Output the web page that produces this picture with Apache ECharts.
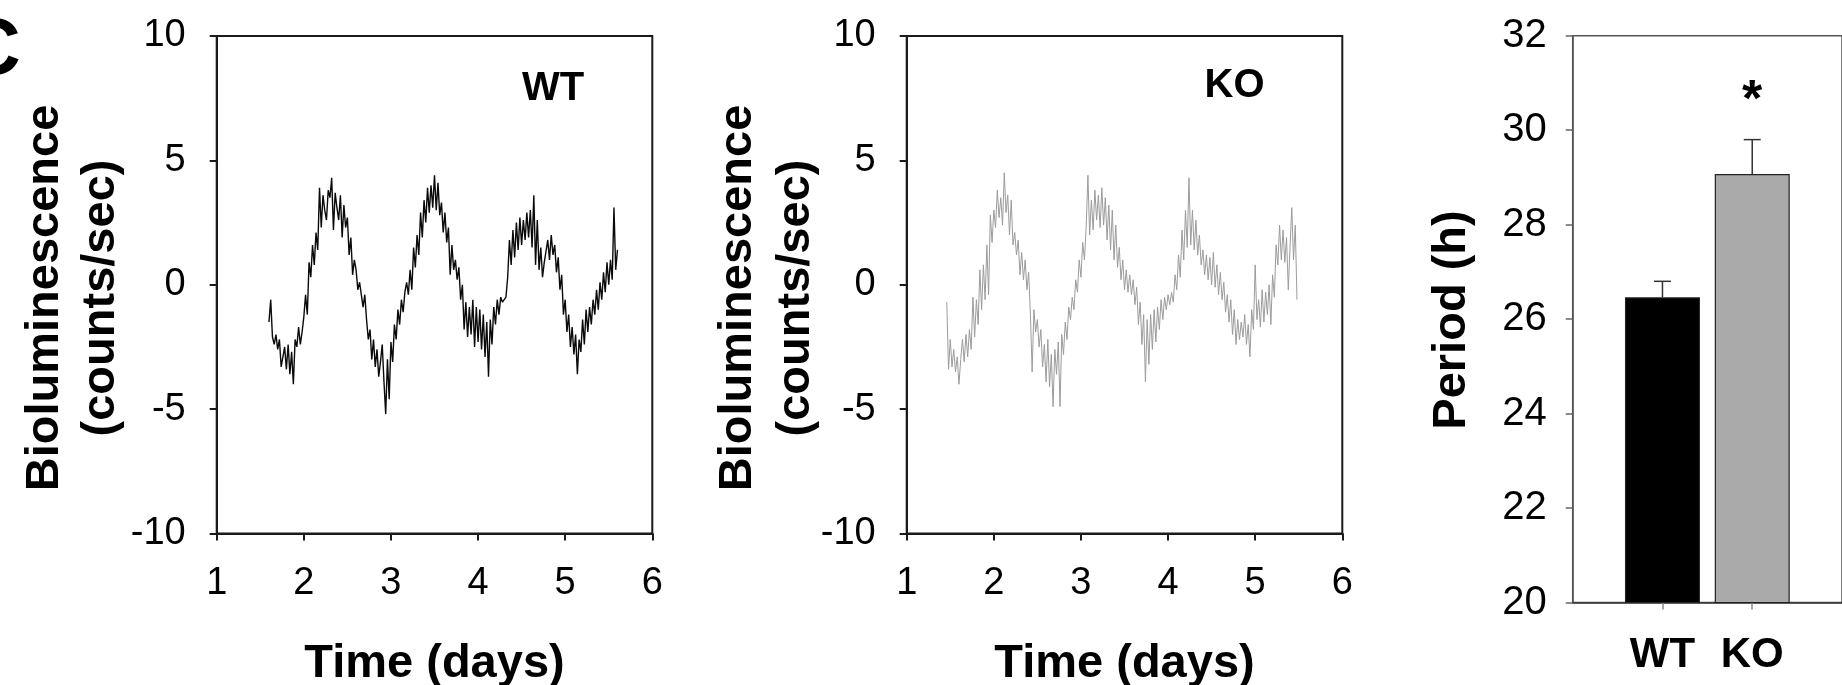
<!DOCTYPE html>
<html><head><meta charset="utf-8">
<script src="https://cdn.jsdelivr.net/npm/echarts@6/dist/echarts.min.js"></script>
<style>html,body{margin:0;padding:0;background:#fff}#c{width:1842px;height:685px}</style>
</head><body><div id="c"></div>
<script>
// ---- data ----
const sampleStep = 0.02;           // days between samples
const wtStart = 1.60;              // first WT sample (days)
const koStart = 1.46;              // first KO sample (days)
const wtValues = [
-1.5,-0.6,-2.1,-2.4,-2.0,-2.6,-2.2,-3.3,-2.9,-2.5,-3.4,-2.4,-3.6,-2.7,-4.0,-2.2,-2.5,-1.7,-2.4,-1.9,
-1.3,-0.4,-1.2,0.9,0.3,1.6,0.8,2.1,1.4,3.9,2.3,3.6,3.0,2.6,3.8,3.5,4.3,2.2,3.7,3.1,
2.6,3.6,1.9,3.2,2.3,2.7,1.2,1.9,0.4,1.0,0.6,-0.2,0.1,-0.4,-0.9,-0.4,-1.4,-2.2,-1.8,-3.0,
-2.2,-3.3,-2.6,-3.7,-3.1,-2.4,-3.9,-5.2,-3.0,-4.6,-2.3,-3.1,-1.6,-2.2,-1.0,-1.6,-0.6,-1.1,-0.3,0.1,
-0.4,0.6,-0.2,1.5,0.7,2.0,1.2,2.9,1.9,3.4,2.5,3.9,2.9,4.0,3.1,4.4,3.0,4.1,2.8,3.3,
2.1,2.9,1.7,2.3,0.4,1.6,0.6,1.0,0.2,0.7,-0.6,0.0,-1.8,-0.7,-2.1,-0.9,-2.0,-0.6,-2.5,-0.9,
-2.3,-1.0,-2.6,-1.2,-2.9,-1.5,-3.7,-1.4,-2.4,-0.9,-1.6,-0.6,-1.2,-0.5,-0.7,-0.6,-0.5,0.3,1.8,0.8,
2.2,1.1,2.5,1.4,2.7,1.6,2.6,1.8,2.9,1.9,3.0,1.5,3.6,0.8,2.6,0.6,1.5,0.3,0.9,0.9,
1.8,1.0,2.0,1.2,1.6,0.5,1.1,-0.2,0.4,-1.2,-0.6,-1.9,-1.2,-2.5,-1.7,-2.8,-2.0,-3.6,-2.2,-2.7,
-1.4,-2.4,-1.0,-1.9,-0.9,-1.6,-0.6,-1.2,-0.2,-1.0,0.1,-0.6,0.5,-0.3,0.9,0.0,1.0,0.2,3.1,0.6,
1.4
];
const koValues = [
-0.7,-3.4,-2.2,-3.3,-2.6,-3.5,-2.9,-4.0,-3.0,-2.2,-3.1,-2.0,-2.9,-1.8,-2.6,-0.5,-2.1,-0.6,-1.6,0.6,
-1.0,0.8,-0.6,1.6,-0.4,2.8,1.7,3.0,2.3,3.8,2.7,3.5,2.4,4.5,2.9,3.6,2.0,3.4,1.6,2.1,
1.2,1.8,0.4,1.3,0.2,1.0,-0.2,0.5,-1.2,-3.5,-1.0,-1.9,-1.4,-2.5,-1.8,-3.3,-2.4,-3.9,-2.2,-4.1,
-2.8,-4.9,-2.6,-3.6,-2.3,-4.9,-2.0,-2.8,-1.5,-2.2,-0.9,-1.4,-0.5,-1.0,0.2,-0.3,1.0,0.3,1.7,1.0,
2.3,4.4,2.0,3.4,2.2,3.8,2.6,3.6,2.3,3.9,2.4,3.5,1.8,3.2,1.4,3.0,1.0,2.4,0.7,1.5,
0.2,1.0,-0.2,0.6,-0.3,0.4,-0.4,0.2,-0.8,-0.1,-1.6,-0.7,-2.4,-1.2,-3.9,-1.4,-3.2,-1.2,-2.6,-1.0,
-2.3,-0.9,-1.8,-0.6,-1.4,-0.5,-1.0,-0.4,-0.8,-0.3,-0.7,0.4,-0.2,1.2,0.3,2.2,1.0,3.0,1.5,4.3,
1.6,3.0,1.4,2.6,1.2,2.0,0.8,1.4,0.4,1.2,0.2,1.1,0.0,1.3,-0.1,0.8,-0.4,0.5,-0.6,0.1,
-1.1,-0.4,-1.5,-0.6,-2.0,-1.0,-2.4,-1.4,-2.2,-1.5,-2.1,-1.2,-2.4,-1.6,-2.9,-1.0,-1.8,0.8,-1.4,-0.6,
-1.7,-0.2,-1.5,-0.3,-1.2,0.0,-1.6,0.4,-0.5,1.6,0.8,2.4,1.0,2.2,0.9,1.9,-0.2,1.5,3.1,1.0,
2.4,-0.6
];
const timeTicks = [1, 2, 3, 4, 5, 6];
const lumTicks = [-10, -5, 0, 5, 10];
const periodCategories = ['WT', 'KO'];
const periodMeans = [26.46, 29.07];
const periodSEM = [0.34, 0.73];
const periodSignificance = ['', '*'];
const periodTicks = [20, 22, 24, 26, 28, 30, 32];

// ---- build ----
const FONT = '"Liberation Sans", Arial, sans-serif';
const wtData = wtValues.map((v, i) => [+(wtStart + i * sampleStep).toFixed(3), v]);
const koData = koValues.map((v, i) => [+(koStart + i * sampleStep).toFixed(3), v]);
const barPos = periodCategories.map((c, i) => i + 1);
const barColors = ['#000000', '#aaaaaa'];

const frameColor = '#1a1a1a';
function lumX(gi) {
  return {
    type: 'value', gridIndex: gi, min: timeTicks[0], max: timeTicks[timeTicks.length - 1], interval: 1,
    axisLine: { show: true, onZero: false, lineStyle: { color: frameColor, width: 2 } },
    axisTick: { show: true, inside: false, length: 7, lineStyle: { color: frameColor, width: 2 } },
    axisLabel: { fontFamily: FONT, fontSize: 38, color: '#000', margin: 31 },
    splitLine: { show: false }
  };
}
function lumY(gi) {
  return {
    type: 'value', gridIndex: gi, min: lumTicks[0], max: lumTicks[lumTicks.length - 1], interval: 5,
    axisLine: { show: true, onZero: false, lineStyle: { color: frameColor, width: 2 } },
    axisTick: { show: true, inside: false, length: 7, lineStyle: { color: frameColor, width: 2 } },
    axisLabel: { fontFamily: FONT, fontSize: 38, color: '#000', margin: 31 },
    splitLine: { show: false }
  };
}

const option = {
  animation: false,
  backgroundColor: '#fff',
  grid: [
    { left: 216.7, top: 36, width: 435.6, height: 497.5, show: true, borderColor: frameColor, borderWidth: 2, backgroundColor: 'transparent' },
    { left: 906.7, top: 36, width: 435.6, height: 497.5, show: true, borderColor: frameColor, borderWidth: 2, backgroundColor: 'transparent' },
    { left: 1572.7, top: 35.7, width: 279, height: 566.8, show: true, borderColor: '#555', borderWidth: 1.5, backgroundColor: 'transparent' }
  ],
  xAxis: [
    lumX(0), lumX(1),
    {
      type: 'value', gridIndex: 2, min: 0, max: periodCategories.length + 1, interval: 1,
      axisLine: { show: true, onZero: false, lineStyle: { color: '#333', width: 1.5 } },
      axisTick: { show: true, length: 7, customValues: barPos, lineStyle: { color: '#888', width: 1.5 } },
      axisLabel: { customValues: barPos, formatter: v => periodCategories[Math.round(v) - 1] || '',
                   fontFamily: FONT, fontSize: 42, fontWeight: 'bold', color: '#000', margin: 32 },
      splitLine: { show: false }
    }
  ],
  yAxis: [
    lumY(0), lumY(1),
    {
      type: 'value', gridIndex: 2, min: periodTicks[0], max: periodTicks[periodTicks.length - 1], interval: 2,
      axisLine: { show: true, onZero: false, lineStyle: { color: '#555', width: 1.5 } },
      axisTick: { show: true, length: 7, lineStyle: { color: '#666', width: 1.5 } },
      axisLabel: { fontFamily: FONT, fontSize: 40, color: '#000', margin: 26 },
      splitLine: { show: false }
    }
  ],
  series: [
    { name: 'WT', type: 'line', xAxisIndex: 0, yAxisIndex: 0, data: wtData, showSymbol: false, symbol: 'none',
      lineStyle: { color: '#0a0a0a', width: 1.4 } },
    { name: 'KO', type: 'line', xAxisIndex: 1, yAxisIndex: 1, data: koData, showSymbol: false, symbol: 'none',
      lineStyle: { color: '#9c9c9c', width: 1 } },
    { name: 'Period', type: 'bar', xAxisIndex: 2, yAxisIndex: 2, barWidth: 75,
      data: periodMeans.map((m, i) => ({ value: [barPos[i], m], itemStyle: { color: barColors[i], borderColor: '#222', borderWidth: 1.2 } })) },
    { name: 'SEM', type: 'custom', xAxisIndex: 2, yAxisIndex: 2, z: 5,
      data: periodMeans.map((m, i) => [barPos[i], m, m + periodSEM[i], i]),
      renderItem: function (params, api) {
        const p0 = api.coord([api.value(0), api.value(1)]);
        const p1 = api.coord([api.value(0), api.value(2)]);
        const half = 8.5;
        const children = [
          { type: 'line', shape: { x1: p0[0], y1: p0[1], x2: p1[0], y2: p1[1] }, style: { stroke: '#333', lineWidth: 1.5 } },
          { type: 'line', shape: { x1: p1[0] - half, y1: p1[1], x2: p1[0] + half, y2: p1[1] }, style: { stroke: '#333', lineWidth: 1.5 } }
        ];
        const sig = periodSignificance[api.value(3)];
        if (sig) {
          children.push({ type: 'text', x: p1[0], y: p1[1] - 38,
            style: { text: sig, font: 'bold 52px ' + FONT, fill: '#000', textAlign: 'center', textVerticalAlign: 'middle' } });
        }
        return { type: 'group', children: children };
      }
    }
  ],
  graphic: [
    { type: 'text', x: -37, y: 52, style: { text: 'C', font: 'bold 80px ' + FONT, fill: '#000', textAlign: 'left', textVerticalAlign: 'middle' } },
    { type: 'text', x: 72.6, y: 298, rotation: Math.PI / 2,
      style: { text: 'Bioluminescence\n(counts/sec)', font: 'bold 47px ' + FONT, lineHeight: 56, fill: '#000', textAlign: 'center', textVerticalAlign: 'middle' } },
    { type: 'text', x: 767, y: 298, rotation: Math.PI / 2,
      style: { text: 'Bioluminescence\n(counts/sec)', font: 'bold 47px ' + FONT, lineHeight: 58, fill: '#000', textAlign: 'center', textVerticalAlign: 'middle' } },
    { type: 'text', x: 1452.5, y: 320, rotation: Math.PI / 2,
      style: { text: 'Period (h)', font: 'bold 47px ' + FONT, fill: '#000', textAlign: 'center', textVerticalAlign: 'middle' } },
    { type: 'text', x: 434.5, y: 664, style: { text: 'Time (days)', font: 'bold 47px ' + FONT, fill: '#000', textAlign: 'center', textVerticalAlign: 'middle' } },
    { type: 'text', x: 1124.5, y: 664, style: { text: 'Time (days)', font: 'bold 47px ' + FONT, fill: '#000', textAlign: 'center', textVerticalAlign: 'middle' } },
    { type: 'text', x: 553, y: 89, style: { text: 'WT', font: 'bold 40px ' + FONT, fill: '#000', textAlign: 'center', textVerticalAlign: 'middle' } },
    { type: 'text', x: 1234.5, y: 86, style: { text: 'KO', font: 'bold 40px ' + FONT, fill: '#000', textAlign: 'center', textVerticalAlign: 'middle' } }
  ]
};
const chart = echarts.init(document.getElementById('c'), null, { renderer: 'canvas' });
chart.setOption(option);
</script></body></html>
